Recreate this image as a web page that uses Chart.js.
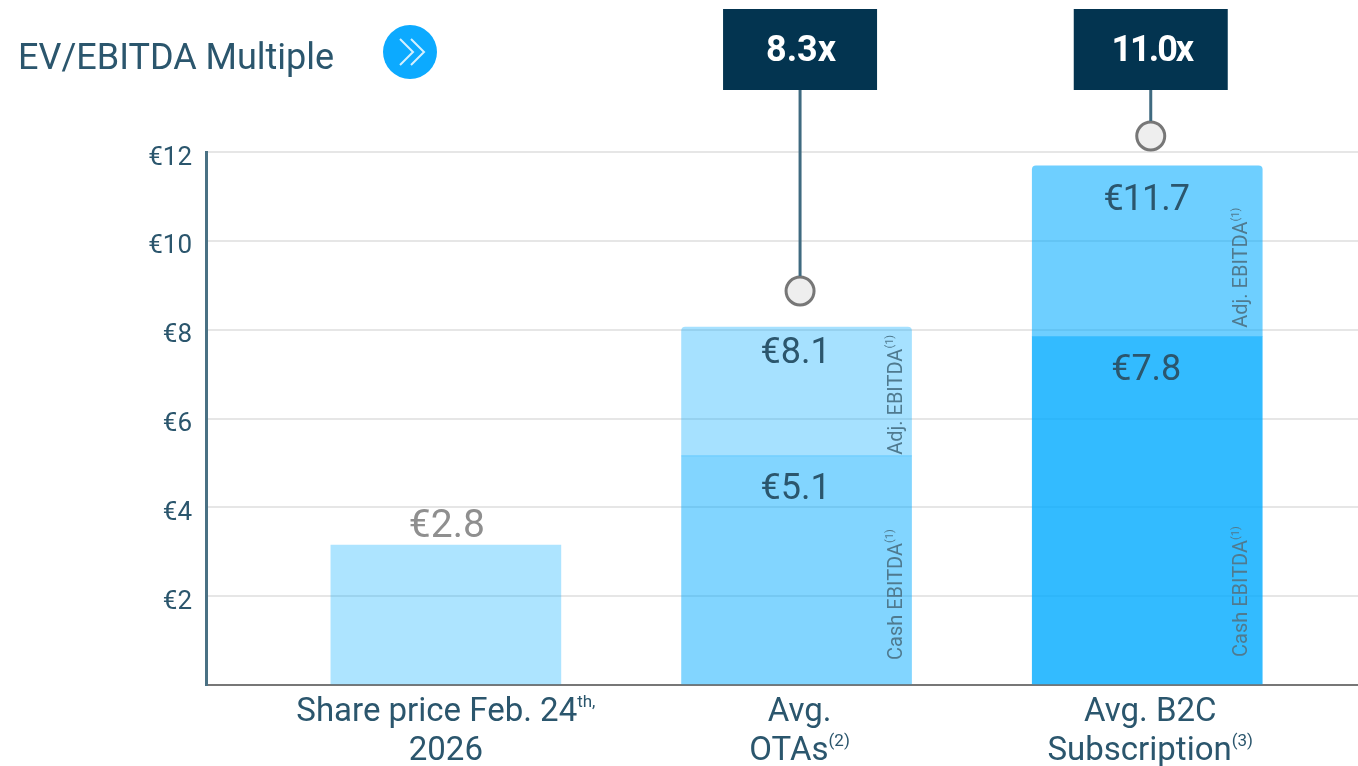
<!DOCTYPE html>
<html>
<head>
<meta charset="utf-8">
<title>EV/EBITDA Multiple</title>
<script src="https://cdn.jsdelivr.net/npm/chart.js@4"></script>
<style>
  html, body { margin: 0; padding: 0; background: #fff; }
  canvas { display: block; }
</style>
</head>
<body>
<canvas id="multipleChart" width="1358" height="766"></canvas>
<script>
// bar heights as drawn (the first bar is drawn taller than its €2.8 label)
const positions = [0, 1, 2];
const cashValues = [3.15, 5.16, 7.84];
const adjValues = [null, 2.9, 3.85];
const cashLabels = ['€2.8', '€5.1', '€7.8'];
const adjLabels = [null, '€8.1', '€11.7'];
const yTicks = [2, 4, 6, 8, 10, 12];

const categoryLines = [
    [['Share price Feb. 24', 'th,'], ['2026', '']],
    [['Avg.', ''], ['OTAs', '(2)']],
    [['Avg. B2C', ''], ['Subscription', '(3)']]
];

const multiplePositions = [1.01, 2.01];
const multipleMarkers = [8.87, 12.36];
const multipleLabels = ['8.3x', '11.0x'];

const FONT = 'Roboto, sans-serif';
const TEXT = '#2b566d';

// base text with an optional superscript, centred or left aligned on x
function drawRich(ctx, base, sup, x, y, size, supSize, align) {
    ctx.textBaseline = 'alphabetic';
    ctx.textAlign = 'left';
    ctx.font = size + 'px ' + FONT;
    const w1 = ctx.measureText(base).width;
    ctx.font = supSize + 'px ' + FONT;
    const w2 = sup ? ctx.measureText(sup).width : 0;
    const left = align === 'center' ? x - (w1 + w2) / 2 : x;
    ctx.font = size + 'px ' + FONT;
    ctx.fillText(base, left, y);
    if (sup) {
        ctx.font = supSize + 'px ' + FONT;
        ctx.fillText(sup, left + w1, y - size * 0.42);
    }
}

function drawSideLabel(ctx, base, x, bottom) {
    ctx.save();
    ctx.translate(x, bottom);
    ctx.rotate(-Math.PI / 2);
    ctx.fillStyle = '#4f7a8f';
    drawRich(ctx, base, '(1)', 0, 0, 20, 11, 'left');
    ctx.restore();
}

const annotations = {
    id: 'annotations',
    afterDatasetsDraw(chart) {
        const ctx = chart.ctx;
        const x = chart.scales.x;
        const y = chart.scales.y;

        // title + icon
        ctx.save();
        ctx.fillStyle = TEXT;
        ctx.font = '36px ' + FONT;
        ctx.textAlign = 'left';
        ctx.textBaseline = 'alphabetic';
        ctx.fillText('EV/EBITDA Multiple', 18, 69);
        ctx.fillStyle = '#0caaff';
        ctx.beginPath();
        ctx.arc(410, 52, 27, 0, Math.PI * 2);
        ctx.fill();
        ctx.strokeStyle = '#d4f0ff';
        ctx.lineWidth = 2;
        [400, 411].forEach(cx => {
            ctx.beginPath();
            ctx.moveTo(cx, 39);
            ctx.lineTo(cx + 13, 52);
            ctx.lineTo(cx, 65);
            ctx.stroke();
        });

        // callouts on top of the marker points
        const meta = chart.getDatasetMeta(2);
        meta.data.forEach((pt, i) => {
            ctx.strokeStyle = '#3f6a80';
            ctx.lineWidth = 3;
            ctx.beginPath();
            ctx.moveTo(pt.x, 90);
            ctx.lineTo(pt.x, pt.y - 15);
            ctx.stroke();
            ctx.fillStyle = '#033450';
            ctx.fillRect(pt.x - 77, 9, 154, 81);
            ctx.fillStyle = '#fff';
            ctx.font = 'bold 36px ' + FONT;
            ctx.textAlign = 'center';
            ctx.textBaseline = 'middle';
            ctx.letterSpacing = i === 1 ? '-2px' : '0px';
            ctx.fillText(multipleLabels[i], pt.x + 1, 52);
            ctx.letterSpacing = '0px';
        });

        // value labels
        ctx.textAlign = 'center';
        ctx.textBaseline = 'middle';
        positions.forEach((p, i) => {
            const cx = x.getPixelForValue(p);
            const cashTop = y.getPixelForValue(cashValues[i]);
            if (i === 0) {
                ctx.font = '39px ' + FONT;
                ctx.fillStyle = '#8f8f8f';
                ctx.fillText(cashLabels[i], cx + 1, cashTop - 18);
                return;
            }
            ctx.font = '36px ' + FONT;
            ctx.fillStyle = TEXT;
            ctx.fillText(cashLabels[i], cx - 1, cashTop + 34);
            const top = y.getPixelForValue(cashValues[i] + adjValues[i]);
            ctx.letterSpacing = i === 2 ? '-1px' : '0px';
            ctx.fillText(adjLabels[i], cx - 1, top + (i === 1 ? 27 : 35));
            ctx.letterSpacing = '0px';
        });

        // rotated series names inside the bars
        positions.forEach((p, i) => {
            if (i === 0) return;
            const cx = x.getPixelForValue(p);
            const cashTop = y.getPixelForValue(cashValues[i]);
            const sx = cx + (i === 1 ? 105 : 100);
            drawSideLabel(ctx, 'Adj. EBITDA', sx, cashTop + (i === 1 ? -1 : -9));
            drawSideLabel(ctx, 'Cash EBITDA', sx, y.getPixelForValue(0) - (i === 1 ? 25 : 28));
        });

        // category labels
        ctx.fillStyle = TEXT;
        positions.forEach((p, i) => {
            const cx = x.getPixelForValue(p) + (i === 0 ? 0 : 3);
            categoryLines[i].forEach((line, j) => {
                drawRich(ctx, line[0], line[1], cx, 721 + j * 39, 33, 17, 'center');
            });
        });
        ctx.restore();
    }
};

new Chart(document.getElementById('multipleChart'), {
    data: {
        datasets: [
            {
                type: 'bar',
                label: 'Cash EBITDA',
                stack: 'ebitda',
                data: positions.map((p, i) => ({ x: p, y: cashValues[i] })),
                backgroundColor: ['rgba(0,170,255,0.32)', 'rgba(0,170,255,0.49)', 'rgba(0,170,255,0.8)'],
                barThickness: 230,
                order: 2
            },
            {
                type: 'bar',
                label: 'Adj. EBITDA',
                stack: 'ebitda',
                data: positions.map((p, i) => ({ x: p, y: adjValues[i] })),
                backgroundColor: ['rgba(0,170,255,0)', 'rgba(0,170,255,0.35)', 'rgba(0,170,255,0.57)'],
                borderRadius: { topLeft: 4, topRight: 4 },
                borderSkipped: 'bottom',
                barThickness: 230,
                order: 2
            },
            {
                type: 'scatter',
                label: 'Multiple',
                data: multiplePositions.map((p, i) => ({ x: p, y: multipleMarkers[i] })),
                pointRadius: 14,
                pointBackgroundColor: '#eeeeee',
                pointBorderColor: '#777777',
                pointBorderWidth: 3,
                clip: false,
                order: 1
            }
        ]
    },
    options: {
        responsive: false,
        animation: false,
        layout: { autoPadding: false, padding: { top: 152, left: 0, right: 0, bottom: 0 } },
        plugins: {
            legend: { display: false },
            tooltip: { enabled: false }
        },
        scales: {
            x: {
                type: 'linear',
                offset: false,
                min: -0.684,
                max: 2.601,
                afterBuildTicks: scale => { scale.ticks = positions.map(p => ({ value: p })); },
                afterFit: scale => { scale.height = 81; },
                ticks: { display: false },
                grid: { display: false },
                border: { color: '#777777', width: 2 }
            },
            y: {
                stacked: true,
                min: 0,
                max: 12,
                afterBuildTicks: scale => { scale.ticks = [0].concat(yTicks).map(v => ({ value: v })); },
                afterFit: scale => { scale.width = 206; },
                ticks: {
                    callback: v => (v === 0 ? '' : '€' + v),
                    color: TEXT,
                    padding: 14,
                    labelOffset: 6,
                    font: { family: FONT, size: 26 }
                },
                grid: { color: '#e6e6e6', lineWidth: 2, drawTicks: false },
                border: { color: '#4a7184', width: 3 }
            }
        }
    },
    plugins: [annotations]
});
</script>
</body>
</html>
